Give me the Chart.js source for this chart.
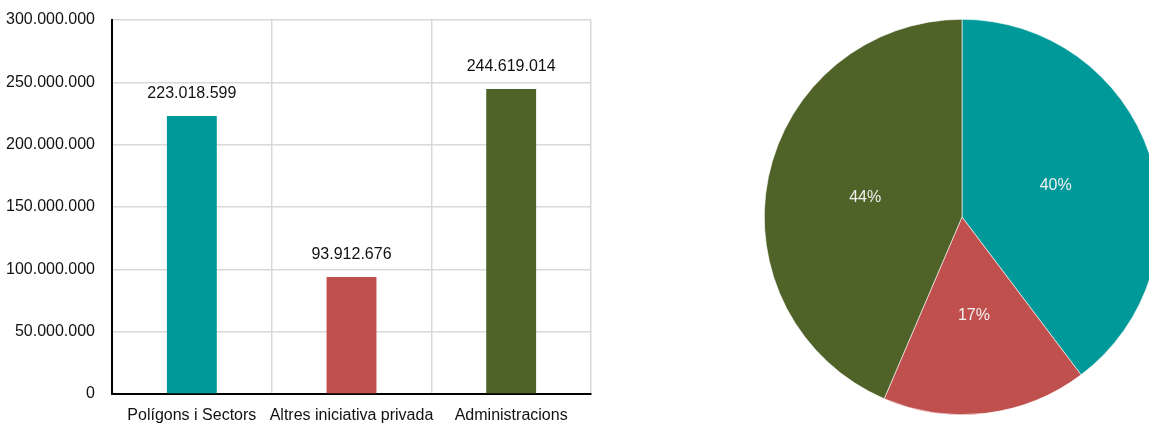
<!DOCTYPE html>
<html>
<head>
<meta charset="utf-8">
<script src="https://cdn.jsdelivr.net/npm/chart.js@4/dist/chart.umd.min.js"></script>
<style>
  html, body { margin: 0; padding: 0; background: #fff; width: 1149px; height: 425px; overflow: hidden; position: relative; }
  #barWrap { position: absolute; left: 0; top: 0; width: 600px; height: 425px; }
  #pieWrap { position: absolute; left: 764px; top: 19px; width: 396px; height: 396px; }
</style>
</head>
<body>
<div id="barWrap"><canvas id="bar" width="600" height="425"></canvas></div>
<div id="pieWrap"><canvas id="pie" width="396" height="396"></canvas></div>
<script>
// Inversió per tipus d'actuació
const categories = ['Polígons i Sectors', 'Altres iniciativa privada', 'Administracions'];
const amounts = [223018599, 93912676, 244619014];
const colors = ['#009999', '#C0504D', '#4F6228'];
const yTicks = [0, 50000000, 100000000, 150000000, 200000000, 250000000, 300000000];

const FONT = '"Liberation Sans", Arial, sans-serif';

// Thousands separated with dots
function fmt(n) {
  return Math.round(n).toString().replace(/\B(?=(\d{3})+(?!\d))/g, '.');
}

// Value labels above each bar
const barValueLabels = {
  id: 'barValueLabels',
  afterDatasetsDraw(chart) {
    const ctx = chart.ctx;
    const meta = chart.getDatasetMeta(0);
    ctx.save();
    ctx.font = '16px ' + FONT;
    ctx.fillStyle = '#111';
    ctx.textAlign = 'center';
    ctx.textBaseline = 'middle';
    meta.data.forEach((bar, i) => {
      ctx.fillText(fmt(amounts[i]), bar.x, bar.y - 22);
    });
    ctx.restore();
  }
};

new Chart(document.getElementById('bar'), {
  type: 'bar',
  data: {
    labels: categories,
    datasets: [{
      data: amounts,
      backgroundColor: colors,
      barPercentage: 0.3125,
      categoryPercentage: 1.0,
      borderWidth: 0
    }]
  },
  options: {
    responsive: false,
    animation: false,
    layout: { padding: { top: 20, right: 9, left: 0, bottom: 0 } },
    plugins: { legend: { display: false }, tooltip: { enabled: false } },
    scales: {
      x: {
        grid: { color: '#d9d9d9', lineWidth: 1.5, drawTicks: false, offset: true },
        border: { color: '#000', width: 2 },
        ticks: { color: '#111', font: { family: FONT, size: 16 }, padding: 12, maxRotation: 0, autoSkip: false },
        afterFit(scale) { scale.height = 31; }
      },
      y: {
        min: 0,
        max: 300000000,
        afterBuildTicks(scale) { scale.ticks = yTicks.map(v => ({ value: v })); },
        grid: { color: '#d9d9d9', lineWidth: 1.5, drawTicks: false },
        border: { color: '#000', width: 2 },
        ticks: {
          color: '#111',
          font: { family: FONT, size: 16 },
          padding: 17,
          autoSkip: false,
          callback: v => fmt(v)
        },
        afterFit(scale) {
          scale.width = 112;
          scale.paddingTop = 0;
          scale.paddingBottom = 0;
        }
      }
    }
  },
  plugins: [barValueLabels]
});

// Percentage labels inside pie slices
const pieLabels = {
  id: 'pieLabels',
  afterDatasetsDraw(chart) {
    const ctx = chart.ctx;
    const meta = chart.getDatasetMeta(0);
    const total = amounts.reduce((a, b) => a + b, 0);
    ctx.save();
    ctx.font = '16px ' + FONT;
    ctx.fillStyle = '#f0f0f0';
    ctx.textAlign = 'center';
    ctx.textBaseline = 'middle';
    meta.data.forEach((arc, i) => {
      const p = arc.getCenterPoint();
      ctx.fillText(Math.round(amounts[i] / total * 100) + '%', p.x, p.y);
    });
    ctx.restore();
  }
};

new Chart(document.getElementById('pie'), {
  type: 'pie',
  data: {
    labels: categories,
    datasets: [{
      data: amounts,
      backgroundColor: colors,
      borderColor: '#ffffff',
      borderWidth: 0.6
    }]
  },
  options: {
    responsive: false,
    animation: false,
    layout: { padding: 0 },
    plugins: { legend: { display: false }, tooltip: { enabled: false } }
  },
  plugins: [pieLabels]
});
</script>
</body>
</html>
